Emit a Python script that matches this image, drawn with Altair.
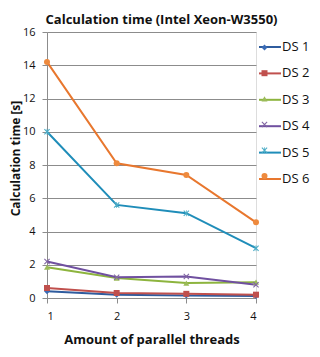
import altair as alt
import pandas as pd

threads = [1, 2, 3, 4]
series = ["DS 1", "DS 2", "DS 3", "DS 4", "DS 5", "DS 6"]
marker_keys = ["m1", "m2", "m3", "m4", "m5", "m6"]
ds1 = [0.40, 0.20, 0.15, 0.12]
ds2 = [0.60, 0.30, 0.25, 0.20]
ds3 = [1.85, 1.20, 0.90, 0.95]
ds4 = [2.20, 1.25, 1.30, 0.80]
ds5 = [10.0, 5.60, 5.10, 3.00]
ds6 = [14.2, 8.10, 7.40, 4.55]

line_colors = ["#2F5C9E", "#C0504D", "#8DB43E", "#7050A0", "#1F8DB9", "#E8772E"]
marker_colors = ["#3A6BB5", "#C0504D", "#9BBB59", "#8064A2", "#4BACC6", "#EE8A3E"]

x_shape = ("M-1,-0.75L-0.75,-1L0,-0.25L0.75,-1L1,-0.75L0.25,0L1,0.75L0.75,1"
           "L0,0.25L-0.75,1L-1,0.75L-0.25,0Z")
star_shape = x_shape + "M-0.12,-1L0.12,-1L0.12,1L-0.12,1Z"
shapes = ["diamond", "square", "triangle-up", x_shape, star_shape, "circle"]

rows = []
for name, key, vals in zip(series, marker_keys, [ds1, ds2, ds3, ds4, ds5, ds6]):
    for t, v in zip(threads, vals):
        rows.append({"threads": t, "series": name, "key": key, "time": v})
df = pd.DataFrame(rows)

FONT = "Open Sans"
GRID = "#8c8c8c"

x_enc = alt.X(
    "threads:Q",
    scale=alt.Scale(domain=[1, 4], nice=False, zero=False),
    axis=alt.Axis(
        values=threads, format="d", grid=False, title="Amount of parallel threads",
        domainColor=GRID, tickColor=GRID, tickSize=5, labelPadding=7,
        labelFont=FONT, labelFontSize=11, labelColor="#111",
        titleFont=FONT, titleFontSize=13, titleFontWeight="bold", titleColor="#111",
        titlePadding=12,
    ),
)
y_enc = alt.Y(
    "time:Q",
    scale=alt.Scale(domain=[0, 16], nice=False),
    axis=alt.Axis(
        values=list(range(0, 17, 2)), grid=True, gridColor=GRID, gridWidth=1,
        domainColor=GRID, tickColor=GRID, tickSize=5, labelPadding=7,
        labelFont=FONT, labelFontSize=11, labelColor="#111",
        title="Calculation time [s]",
        titleFont=FONT, titleFontSize=12, titleFontWeight="bold", titleColor="#111",
        titleAngle=270, titleX=-25, titleY=126, titleAlign="center",
        titleBaseline="bottom",
    ),
)

lines = alt.Chart(df).mark_line(strokeWidth=2).encode(
    x=x_enc,
    y=y_enc,
    stroke=alt.Stroke(
        "series:N",
        scale=alt.Scale(domain=series, range=line_colors),
        legend=alt.Legend(
            orient="none", legendX=211, legendY=3, title=None, symbolType="stroke",
            symbolSize=484, symbolStrokeWidth=2, labelFont=FONT, labelFontSize=13,
            labelColor="#111", rowPadding=7.4, labelOffset=0, padding=0,
        ),
    ),
)

marker_legend = alt.Legend(
    orient="none", legendX=211, legendY=9, title=None, symbolSize=36,
    labelExpr="' '", labelFont=FONT, labelFontSize=13, rowPadding=11.7,
    padding=0, symbolStrokeWidth=0,
)

points = alt.Chart(df).mark_point(filled=True, size=36, opacity=1).encode(
    x=x_enc,
    y=y_enc,
    fill=alt.Fill(
        "key:N",
        scale=alt.Scale(domain=marker_keys, range=marker_colors),
        legend=marker_legend,
    ),
    shape=alt.Shape(
        "key:N",
        scale=alt.Scale(domain=marker_keys, range=shapes),
        legend=marker_legend,
    ),
)

chart = alt.layer(lines, points).properties(
    width=209,
    height=266,
    title=alt.Title(
        "Calculation time (Intel Xeon-W3550)", font=FONT, fontSize=13,
        fontWeight="bold", color="#111", anchor="middle", dx=10, dy=3, offset=2,
    ),
    autosize=alt.AutoSizeParams(type="none"),
    padding={"left": 39, "top": 24, "right": 56, "bottom": 51},
).configure_view(stroke=None).configure(background="white")

chart.save("out.html", embed_options={"renderer": "svg", "actions": False})
